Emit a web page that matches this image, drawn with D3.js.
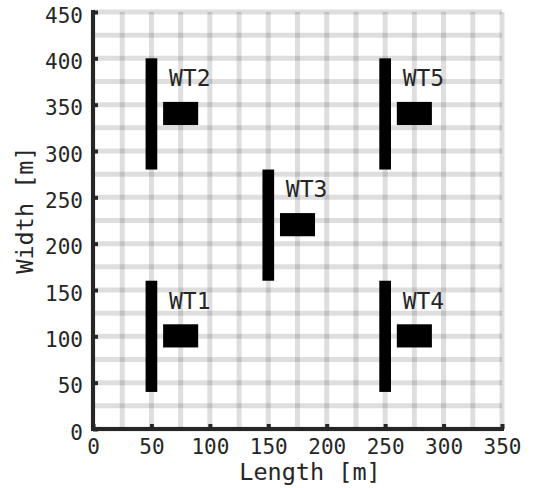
<!DOCTYPE html>
<html>
<head>
<meta charset="utf-8">
<script src="https://cdn.jsdelivr.net/npm/d3@7"></script>
<style>
  body { margin: 0; background: #fff; }
  text { font-family: "DejaVu Sans Mono", monospace; fill: #262626; }
</style>
</head>
<body>
<svg id="chart" width="537" height="488"></svg>
<script>
// turbine layout
const names = ["WT1", "WT2", "WT3", "WT4", "WT5"];
const hubX = [50, 50, 150, 250, 250];
const hubY = [100, 340, 220, 100, 340];
const rotorDiameter = 120;
const xTicks = [0, 50, 100, 150, 200, 250, 300, 350];
const yTicks = [0, 50, 100, 150, 200, 250, 300, 350, 400, 450];
const gridStep = 25;

const turbines = names.map((n, i) => ({ name: n, x: hubX[i], y: hubY[i] }));

const x = d3.scaleLinear().domain([0, 350]).range([93, 502]);
const y = d3.scaleLinear().domain([0, 450]).range([429, 12]);

const svg = d3.select("#chart");

// grid every 25 m
const gx = d3.range(0, 350 + 1, gridStep);
const gy = d3.range(0, 450 + 1, gridStep);
const grid = svg.append("g").attr("stroke", "#000").attr("stroke-opacity", 0.13).attr("stroke-width", 5);
grid.selectAll(".v").data(gx).enter().append("line")
  .attr("x1", d => x(d)).attr("x2", d => x(d))
  .attr("y1", y(0)).attr("y2", y(450));
grid.selectAll(".h").data(gy).enter().append("line")
  .attr("y1", d => y(d)).attr("y2", d => y(d))
  .attr("x1", x(0)).attr("x2", x(350));

// turbines: rotor + nacelle
const wt = svg.append("g").selectAll("g").data(turbines).enter().append("g");
wt.append("rect")
  .attr("x", d => x(d.x - 5))
  .attr("width", d => x(d.x + 5) - x(d.x - 5))
  .attr("y", d => y(d.y + rotorDiameter / 2))
  .attr("height", d => y(d.y - rotorDiameter / 2) - y(d.y + rotorDiameter / 2))
  .attr("fill", "#000");
wt.append("rect")
  .attr("x", d => x(d.x + 10))
  .attr("width", d => x(d.x + 40) - x(d.x + 10))
  .attr("y", d => y(d.y + 13))
  .attr("height", d => y(d.y - 12) - y(d.y + 13))
  .attr("fill", "#000");
wt.append("text")
  .attr("x", d => x(d.x + 15))
  .attr("y", d => y(d.y + 30))
  .attr("font-size", 23)
  .text(d => d.name);

// axes
const xAxis = svg.append("g").attr("transform", `translate(0,${y(0)})`)
  .call(d3.axisBottom(x).tickValues(xTicks).tickSize(-5).tickFormat(d3.format("d")));
const yAxis = svg.append("g").attr("transform", `translate(${x(0)},0)`)
  .call(d3.axisLeft(y).tickValues(yTicks).tickSize(-5).tickFormat(d3.format("d")));

[xAxis, yAxis].forEach(a => {
  a.select(".domain").remove();
  a.selectAll(".tick line").attr("stroke", "#262626").attr("stroke-width", 4);
  a.selectAll(".tick text").attr("font-size", 21).attr("font-family", "DejaVu Sans Mono").attr("fill", "#262626");
});
xAxis.append("line").attr("x1", x(0) - 2).attr("x2", x(350) + 2)
  .attr("stroke", "#262626").attr("stroke-width", 4);
yAxis.append("line").attr("y1", y(0) + 2).attr("y2", y(450) - 2)
  .attr("stroke", "#262626").attr("stroke-width", 4);
xAxis.selectAll(".tick text").attr("y", 25).attr("dy", null);
yAxis.selectAll(".tick text").attr("x", -10).attr("dy", null).attr("y", 10);

// axis titles
svg.append("text")
  .attr("x", 310).attr("y", 480)
  .attr("text-anchor", "middle").attr("font-size", 23.5)
  .text("Length [m]");
svg.append("text")
  .attr("transform", "translate(33,210) rotate(-90)")
  .attr("text-anchor", "middle").attr("font-size", 23.5)
  .text("Width [m]");
</script>
</body>
</html>
